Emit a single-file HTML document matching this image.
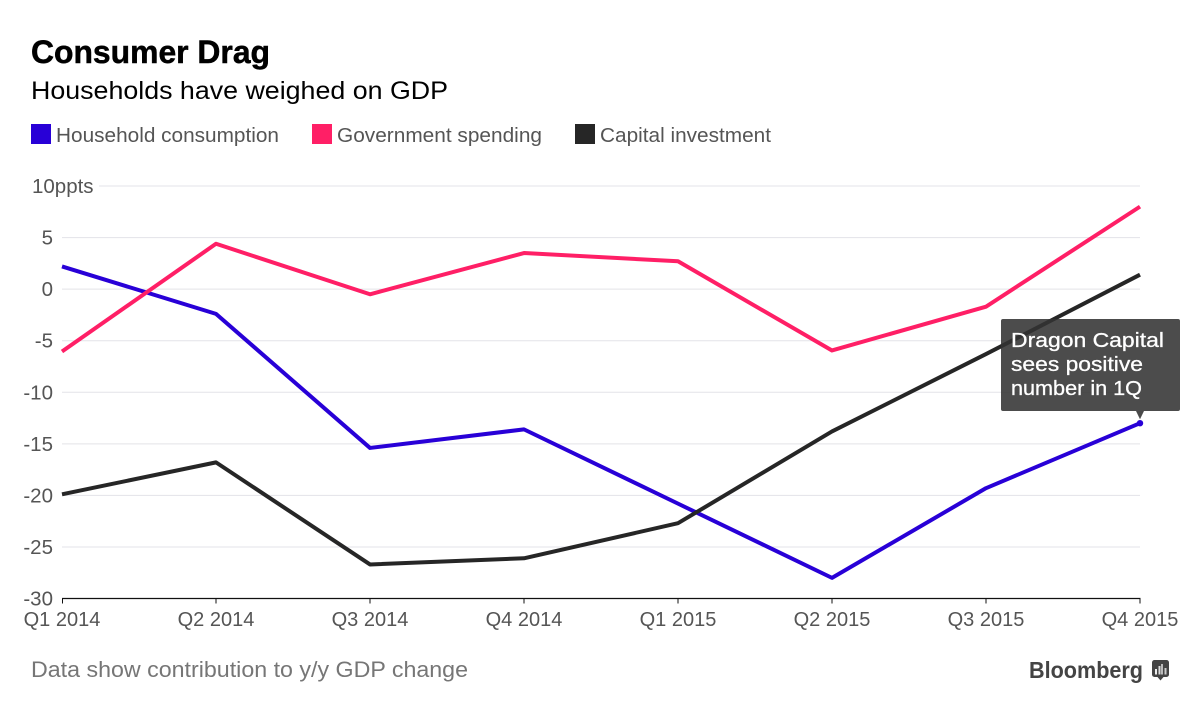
<!DOCTYPE html>
<html lang="en">
<head>
<meta charset="utf-8">
<title>Consumer Drag</title>
<style>
  html, body { margin: 0; padding: 0; background: #fff; }
  #chart { display: block; width: 1200px; height: 714px; font-family: "Liberation Sans", sans-serif; }
</style>
</head>
<body>
<svg id="chart" xmlns="http://www.w3.org/2000/svg" width="1200" height="714" viewBox="0 0 1200 714">
  <text x="31" y="63" font-size="32" font-weight="700" fill="#000" textLength="239" lengthAdjust="spacingAndGlyphs" stroke="#000" stroke-width="0.5">Consumer Drag</text>
  <text x="31" y="99" font-size="25" fill="#000" textLength="417" lengthAdjust="spacingAndGlyphs">Households have weighed on GDP</text>

  <g>
    <g>
      <rect x="31" y="124" width="20" height="20" fill="#2800d7"></rect>
      <text x="56" y="142" font-size="20.5" fill="#555" textLength="223" lengthAdjust="spacingAndGlyphs">Household consumption</text>
    </g>
    <g>
      <rect x="312" y="124" width="20" height="20" fill="#ff1f66"></rect>
      <text x="337" y="142" font-size="20.5" fill="#555" textLength="205" lengthAdjust="spacingAndGlyphs">Government spending</text>
    </g>
    <g>
      <rect x="575" y="124" width="20" height="20" fill="#262626"></rect>
      <text x="600" y="142" font-size="20.5" fill="#555" textLength="171" lengthAdjust="spacingAndGlyphs">Capital investment</text>
    </g>
  </g>

  <g id="grid"></g>
  <g id="yaxis"></g>
  <g id="xaxis"></g>
  <g id="series"></g>

  <g id="callout">
    <rect x="1001" y="319" width="179" height="92" rx="2" fill="#333" fill-opacity="0.88"></rect>
    <text x="1011" y="347" font-size="20.5" font-weight="400" fill="#fff" stroke="#fff" stroke-width="0.3" textLength="153" lengthAdjust="spacingAndGlyphs">Dragon Capital</text>
    <text x="1011" y="371" font-size="20.5" fill="#fff" stroke="#fff" stroke-width="0.3" textLength="132" lengthAdjust="spacingAndGlyphs">sees positive</text>
    <text x="1011" y="395" font-size="20.5" fill="#fff" stroke="#fff" stroke-width="0.3" textLength="131" lengthAdjust="spacingAndGlyphs">number in 1Q</text>
  </g>

  <text x="31" y="677" font-size="22" fill="#767676" textLength="437" lengthAdjust="spacingAndGlyphs">Data show contribution to y/y GDP change</text>

  <g>
    <text x="1029" y="678" font-size="23.5" font-weight="700" fill="#444" textLength="114" lengthAdjust="spacingAndGlyphs">Bloomberg</text>
    <g>
      <rect x="1152" y="660" width="17" height="17" rx="2.5" fill="#444"></rect>
      <polygon points="1157.5,677 1163.5,677 1160.5,680.5" fill="#444"></polygon>
      <rect x="1155" y="669" width="2" height="5.5" fill="#eee"></rect>
      <rect x="1158.5" y="666" width="2" height="8.5" fill="#ddd"></rect>
      <rect x="1161" y="664" width="2" height="10.5" fill="#bbb"></rect>
      <rect x="1164.5" y="668" width="2" height="6.5" fill="#ccc"></rect>
    </g>
  </g>
</svg>

<script>
const categories = ["Q1 2014", "Q2 2014", "Q3 2014", "Q4 2014", "Q1 2015", "Q2 2015", "Q3 2015", "Q4 2015"];
const yTicks = [10, 5, 0, -5, -10, -15, -20, -25, -30];
const yTickLabels = ["10ppts", "5", "0", "-5", "-10", "-15", "-20", "-25", "-30"];
const householdValues = [2.2, -2.4, -15.4, -13.6, -20.8, -28.0, -19.3, -13.0];
const governmentValues = [-6.05, 4.4, -0.5, 3.5, 2.7, -5.95, -1.7, 8.0];
const capitalValues = [-19.9, -16.8, -26.7, -26.1, -22.7, -13.8, -6.3, 1.4];

const SVG_NS = "http://www.w3.org/2000/svg";
const xLeft = 62, xRight = 1140, yTop = 186, yBottom = 598.5;
const yMax = 10, yMin = -30;

function xScale(i) {
  return xLeft + (xRight - xLeft) * i / (categories.length - 1);
}
function yScale(v) {
  return yTop + (yMax - v) * (yBottom - yTop) / (yMax - yMin);
}
function make(tag, attrs, parent) {
  const el = document.createElementNS(SVG_NS, tag);
  for (const k in attrs) el.setAttribute(k, attrs[k]);
  parent.appendChild(el);
  return el;
}

const grid = document.getElementById("grid");
const yaxis = document.getElementById("yaxis");
const xaxis = document.getElementById("xaxis");
const seriesGroup = document.getElementById("series");

yTicks.forEach(function (t, i) {
  const y = yScale(t);
  if (t !== yMin) {
    const x1 = i === 0 ? 99 : xLeft;
    const line = make("line", { x1: x1, x2: xRight, y1: y, y2: y, stroke: "#e3e3e8", "stroke-width": 1 }, grid);
    
    
  }
  const isTop = i === 0;
  const label = make("text", {
    x: isTop ? 32 : 53,
    y: y + 7,
    "font-size": 20.5,
    fill: "#555",
    "text-anchor": isTop ? "start" : "end"
  }, yaxis);
  label.textContent = yTickLabels[i];
  
  
});

const axisLine = make("line", { x1: xLeft, x2: xRight + 0.5, y1: yBottom, y2: yBottom, stroke: "#111", "stroke-width": 1.2 }, xaxis);



categories.forEach(function (c, i) {
  const x = xScale(i);
  const tick = make("line", { x1: x + 0.5 * (i === 0 ? 1 : 0), x2: x + 0.5 * (i === 0 ? 1 : 0), y1: yBottom, y2: yBottom + 5, stroke: "#111", "stroke-width": 1 }, xaxis);
  
  
  const label = make("text", {
    x: x,
    y: 626,
    "font-size": 20,
    fill: "#555",
    "text-anchor": "middle"
  }, xaxis);
  label.textContent = c;
  
  
});

function drawSeries(values, color) {
  const pts = values.map(function (v, i) { return xScale(i) + "," + yScale(v); }).join(" ");
  return make("polyline", {
    points: pts,
    fill: "none",
    stroke: color,
    "stroke-width": 4,
    "stroke-linejoin": "round"
  }, seriesGroup);
}

const householdLine = drawSeries(householdValues, "#2800d7");



const governmentLine = drawSeries(governmentValues, "#ff1f66");



const capitalLine = drawSeries(capitalValues, "#262626");



const lastIndex = householdValues.length - 1;
const calloutX = xScale(lastIndex);
const calloutY = yScale(householdValues[lastIndex]);
const calloutGroup = document.getElementById("callout");
const pointer = make("polygon", {
  points: (calloutX - 4) + ",411 " + (calloutX + 4) + ",411 " + calloutX + "," + (calloutY - 4)
}, calloutGroup);
pointer.setAttribute("fill", "#4a4a4a");



const endDot = make("circle", { cx: calloutX, cy: calloutY, r: 3.2, fill: "#2800d7" }, calloutGroup);


</script>
</body>
</html>
